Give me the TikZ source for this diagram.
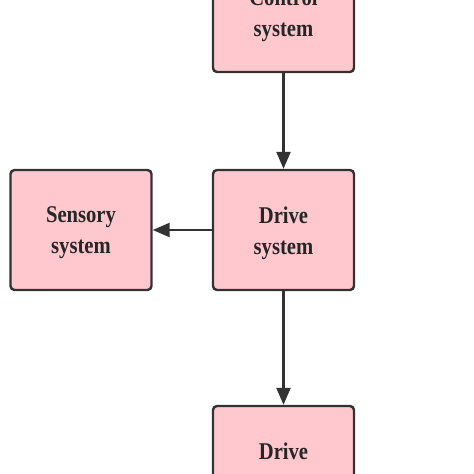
\documentclass[tikz,border=0pt]{standalone}
\usepackage{fontspec}
\setmainfont{Liberation Serif}
\newfontfamily\boxfont[FakeStretch=0.86]{Liberation Serif}
\usetikzlibrary{arrows.meta}
\definecolor{boxfill}{RGB}{255,200,206}
\definecolor{boxline}{RGB}{50,50,50}
\tikzset{
  sysbox/.style={draw=boxline, fill=boxfill, line width=2.4pt, rounded corners=4pt,
    minimum width=141pt, minimum height=120pt, inner sep=0pt},
  boxtext/.style={align=center, yshift=-3pt, inner sep=0pt,
    font=\boxfont\bfseries\fontsize{24pt}{31pt}\selectfont, text=black!85},
  conn/.style={draw=boxline, line width=2.4pt, -{Triangle[length=17pt,width=14pt]}}
}
\begin{document}
\begin{tikzpicture}[x=1pt,y=-1pt]
\useasboundingbox (0,0) rectangle (474,474);
\clip (0,0) rectangle (474,474);
\node[sysbox] (ctrl) at (283.5,12) {};
\node[sysbox] (drive) at (283.5,230) {};
\node[sysbox] (sens) at (81,230) {};
\node[sysbox] (bot) at (283.5,466) {};
\node[boxtext] (ctrlt) at (ctrl.center) {Control\\system};
\node[boxtext] (drivet) at (drive.center) {Drive\\system};
\node[boxtext] (senst) at (sens.center) {Sensory\\system};
\node[boxtext] (bott) at (bot.center) {Drive\\system};
\draw[conn] (ctrl) -- (drive);
\draw[conn] (drive) -- (sens);
\draw[conn] (drive) -- (bot);
\end{tikzpicture}
\end{document}
